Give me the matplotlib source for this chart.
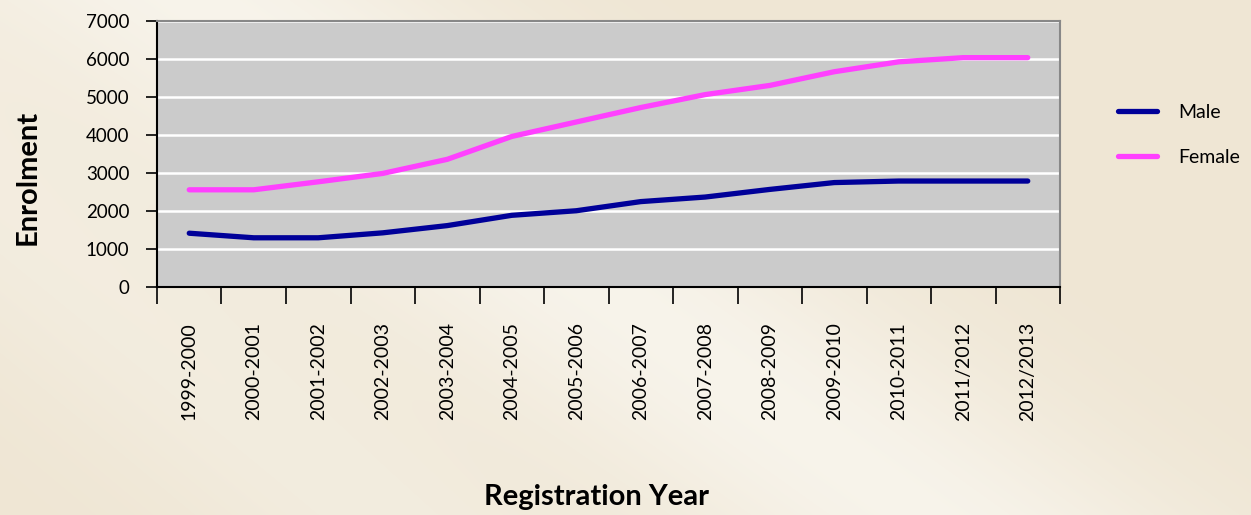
import numpy as np
import matplotlib
matplotlib.use("Agg")
import matplotlib.pyplot as plt

years = ["1999-2000", "2000-2001", "2001-2002", "2002-2003", "2003-2004",
         "2004-2005", "2005-2006", "2006-2007", "2007-2008", "2008-2009",
         "2009-2010", "2010-2011", "2011/2012", "2012/2013"]
male = [1420, 1300, 1300, 1430, 1620, 1890, 2010, 2250, 2370, 2570, 2750, 2790, 2790, 2790]
female = [2560, 2560, 2770, 2990, 3360, 3960, 4340, 4720, 5060, 5300, 5660, 5920, 6030, 6030]

plt.rcParams["font.family"] = ["Lato", "DejaVu Sans"]

W, H = 1251, 515
fig = plt.figure(figsize=(W / 100, H / 100), dpi=100)

# cream background with soft diagonal light streaks
bg = fig.add_axes([0, 0, 1, 1], zorder=-10)
yy, xx = np.mgrid[0:H, 0:W]
base = np.array([239, 230, 212]) / 255.0
light = np.array([250, 248, 242]) / 255.0
d1 = (xx - 1.4 * yy - 200) / 260.0
d2 = (xx - 1.2 * yy + 250) / 200.0
w = 0.75 * np.exp(-d1 ** 2) + 0.35 * np.exp(-d2 ** 2)
w = np.clip(w, 0, 1)[..., None]
img = base * (1 - w) + light * w
bg.imshow(img, aspect="auto", extent=[0, 1, 0, 1], origin="upper")
bg.set_axis_off()

ax = fig.add_axes([157 / W, 1 - 287.3 / H, (1060 - 157) / W, (287.3 - 20.7) / H])
ax.set_facecolor("#CBCBCB")
x = np.arange(len(years))
ax.plot(x, male, color="#000099", lw=3.8, label="Male", solid_capstyle="round")
ax.plot(x, female, color="#FF40FF", lw=3.8, label="Female", solid_capstyle="round")

ax.set_xlim(-0.5, len(years) - 0.5)
ax.set_ylim(0, 7000)
ax.set_yticks(range(0, 7001, 1000))
ax.yaxis.grid(True, color="white", lw=1.8)
ax.set_axisbelow(True)
ax.tick_params(axis="y", length=8, width=1.2, labelsize=13.5, pad=12, colors="black")

ax.set_xticks(np.arange(-0.5, len(years), 1.0))
ax.set_xticklabels([])
ax.set_xticks(x, minor=True)
ax.set_xticklabels(years, minor=True, rotation=90, fontsize=14)
ax.tick_params(axis="x", which="major", length=12, width=1.2)
ax.tick_params(axis="x", which="minor", length=0, pad=25)

for s in ["left", "bottom"]:
    ax.spines[s].set_color("black")
    ax.spines[s].set_linewidth(1.5)
for s in ["top", "right"]:
    ax.spines[s].set_color("#888888")
    ax.spines[s].set_linewidth(1.5)

leg = ax.legend(loc="upper left", bbox_to_anchor=(1.045, 0.755), frameon=False,
                fontsize=14, handlelength=2.0, handletextpad=1.1, labelspacing=1.45)

fig.text(28 / W, 1 - 177 / H, "Enrolment", rotation=90, ha="center", va="center",
         fontsize=21, fontweight="bold")
fig.text(596 / W, 1 - 497 / H, "Registration Year", ha="center", va="center",
         fontsize=21, fontweight="bold")

fig.savefig("out.png", dpi=100)
